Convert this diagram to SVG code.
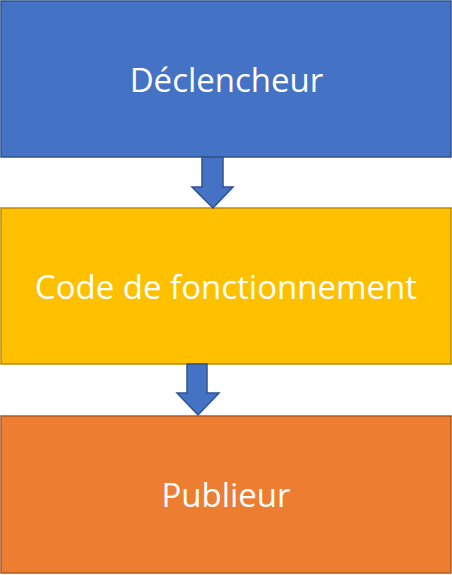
<svg xmlns="http://www.w3.org/2000/svg" width="452" height="575" viewBox="0 0 452 575">
<style>
.t{font-family:"Open Sans","Liberation Sans",sans-serif;font-size:33px;fill:#fff;text-anchor:middle}
.a{fill:#4472C4;stroke:#2F528F;stroke-width:1.5}
</style>
<rect width="452" height="575" fill="#fff"/>
<g id="declencheur"><rect x="1" y="1" width="450" height="156" fill="#4472C4" stroke="#2F528F" stroke-width="1.5"/><text class="t" x="226.5" y="92">Déclencheur</text></g>
<g id="code"><rect x="1" y="208" width="450" height="156" fill="#FFC000" stroke="#BC8C00" stroke-width="1.5"/><text class="t" x="226" y="299">Code de fonctionnement</text></g>
<g id="publieur"><rect x="1" y="416" width="450" height="157" fill="#ED7D31" stroke="#AE5A21" stroke-width="1.5"/><text class="t" x="226" y="507">Publieur</text></g>
<g id="connectors">
<path class="a" d="M202 157 H223 V187 H233 L213 208 L192 187 H202 Z"/>
<path class="a" d="M187 364 H207 V393 H219 L198 415 L177 393 H187 Z"/>
</g>
</svg>
